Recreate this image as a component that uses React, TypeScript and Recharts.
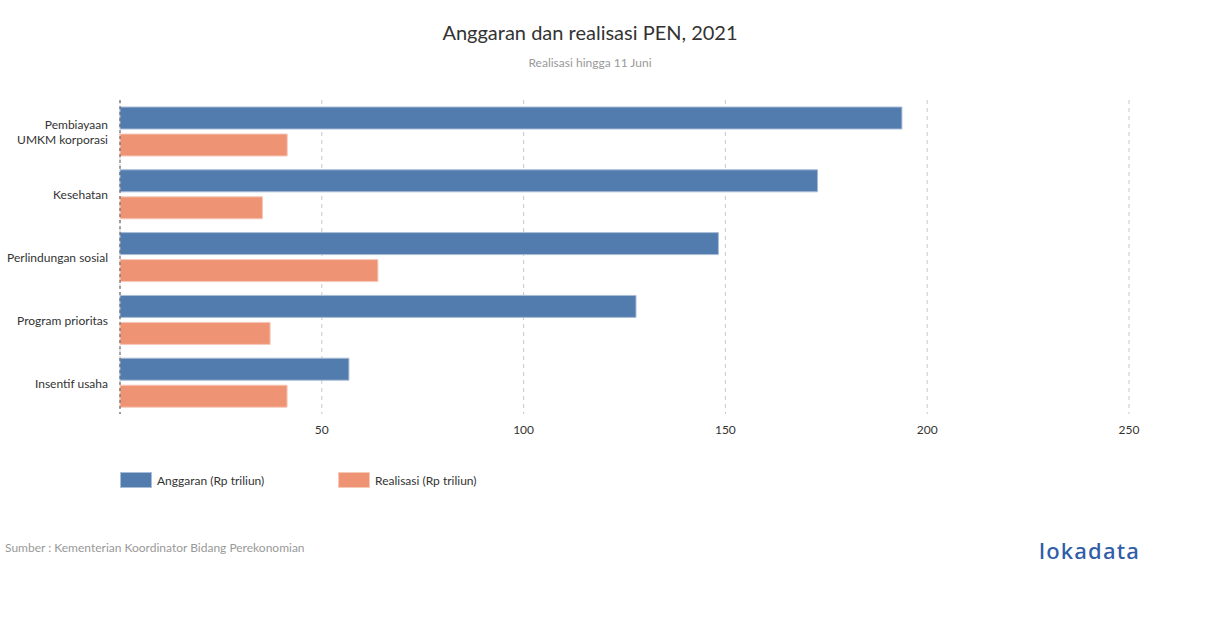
import { BarChart, Bar, XAxis, YAxis, CartesianGrid, Legend } from 'recharts'

const categories = ['Pembiayaan|UMKM korporasi', 'Kesehatan', 'Perlindungan sosial', 'Program prioritas', 'Insentif usaha']
const anggaran = [193.74, 172.84, 148.27, 127.85, 56.72]
const realisasi = [41.43, 35.3, 63.9, 37.2, 41.4]
const xTicks = [50, 100, 150, 200, 250]

const BLUE = '#527bae'
const ORANGE = '#ee9474'
const FONT = 'Lato, "Open Sans", sans-serif'

const data = categories.map((c, i) => ({ name: c, anggaran: anggaran[i], realisasi: realisasi[i] }))

function CategoryTick({ x, y, payload }: any) {
  const lines = String(payload.value).split('|')
  const lh = 15
  const start = y - ((lines.length - 1) * lh) / 2
  return (
    <text x={x} y={start} textAnchor="end" fill="#333" fontSize={12} fontFamily={FONT} dominantBaseline="central">
      {lines.map((l, i) => (
        <tspan key={i} x={x} y={start + i * lh} dominantBaseline="central">{l}</tspan>
      ))}
    </text>
  )
}

function LegendContent() {
  const items = [
    { label: 'Anggaran (Rp triliun)', color: BLUE, border: '#a9bdd6' },
    { label: 'Realisasi (Rp triliun)', color: ORANGE, border: '#f6c9b9' },
  ]
  return (
    <div style={{ display: 'flex', fontFamily: FONT, fontSize: 12, color: '#333' }}>
      {items.map(it => (
        <div key={it.label} style={{ display: 'flex', alignItems: 'center', width: 218 }}>
          <span style={{ display: 'inline-block', width: 30, height: 14, background: it.color, border: `1px solid ${it.border}`, marginRight: 5 }} />
          <span>{it.label}</span>
        </div>
      ))}
    </div>
  )
}

export default function App() {
  return (
    <div style={{ position: 'absolute', left: 0, top: 0, width: 1210, height: 628, background: '#fff', fontFamily: FONT }}>
      <div style={{ position: 'absolute', left: 0, width: 1180, top: 20, textAlign: 'center', fontSize: 20, color: '#333' }}>
        Anggaran dan realisasi PEN, 2021
      </div>
      <div style={{ position: 'absolute', left: 0, width: 1180, top: 55, textAlign: 'center', fontSize: 12, color: '#999' }}>
        Realisasi hingga 11 Juni
      </div>
      <div style={{ position: 'absolute', left: 0, top: 0 }}>
        <BarChart
          width={1210}
          height={628}
          data={data}
          layout="vertical"
          margin={{ top: 100, right: 81, bottom: 168, left: 0 }}
          barSize={22}
          barGap={5}
        >
          <CartesianGrid horizontal={false} stroke="#c8c8c8" strokeDasharray="4 4" />
          <XAxis
            type="number"
            domain={[0, 250]}
            ticks={xTicks}
            axisLine={false}
            tickLine={false}
            tickMargin={5}
            tick={{ fontSize: 12, fill: '#333', fontFamily: FONT }}
          />
          <YAxis
            type="category"
            dataKey="name"
            width={120}
            axisLine={{ stroke: '#555', strokeDasharray: '3 3' }}
            tickLine={false}
            tick={<CategoryTick />}
            tickMargin={6}
          />
          <Legend
            content={<LegendContent />}
            wrapperStyle={{ position: 'absolute', top: 472, left: 120, width: 500 }}
          />
          <Bar dataKey="anggaran" fill={BLUE} stroke="#a9bdd6" strokeWidth={1} isAnimationActive={false} />
          <Bar dataKey="realisasi" fill={ORANGE} stroke="#f6c9b9" strokeWidth={1} isAnimationActive={false} />
        </BarChart>
      </div>
      <div style={{ position: 'absolute', left: 5, top: 540, fontSize: 12, color: '#999' }}>
        Sumber : Kementerian Koordinator Bidang Perekonomian
      </div>
      <div style={{ position: 'absolute', left: 1039, top: 535, fontSize: 22, fontWeight: 500, color: '#2f5da6', fontFamily: '"Noto Sans", sans-serif', letterSpacing: 1.2 }}>
        lokadata
      </div>
    </div>
  )
}
